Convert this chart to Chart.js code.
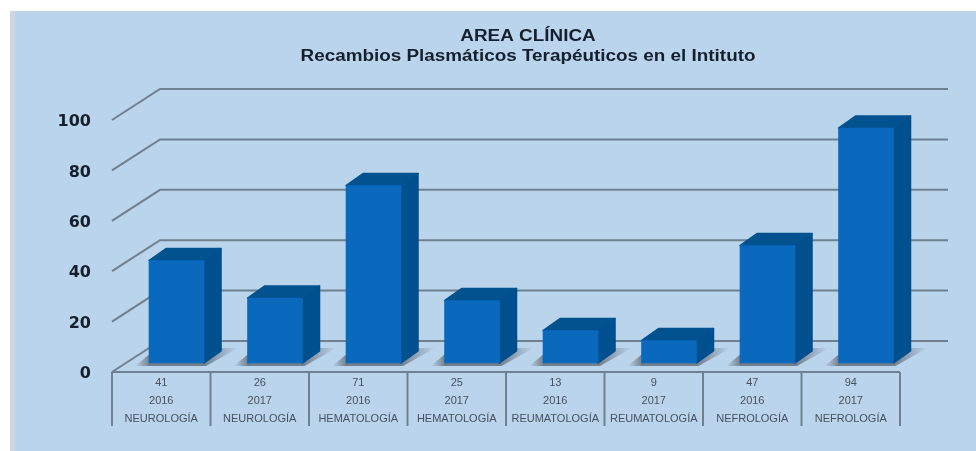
<!DOCTYPE html>
<html>
<head>
<meta charset="utf-8">
<title>Area clínica</title>
<script src="https://cdn.jsdelivr.net/npm/chart.js@4"></script>
<style>
  html, body { margin: 0; padding: 0; background: #fff; overflow: hidden; }
  canvas { display: block; }
</style>
</head>
<body>
<canvas id="recambiosChart" width="976" height="451"></canvas>
<script>
const areas = ['NEUROLOGÍA', 'NEUROLOGÍA', 'HEMATOLOGÍA', 'HEMATOLOGÍA', 'REUMATOLOGÍA', 'REUMATOLOGÍA', 'NEFROLOGÍA', 'NEFROLOGÍA'];
const years = ['2016', '2017', '2016', '2017', '2016', '2017', '2016', '2017'];
const values = [41, 26, 71, 25, 13, 9, 47, 94];
const titleLines = ['AREA CLÍNICA', 'Recambios Plasmáticos Terapéuticos en el Intituto'];

const lineColor = '#6f8090';
const wallDepth = { x: 48, y: -31 };   // front edge of the floor to the back wall
const barDepth = { x: 17, y: -12 };    // depth of each box
const tickDrop = 2;                    // value labels sit a bit below their wall line

// Background, walls, floor shadows and the side/top faces of the boxes
const boxes3d = {
  id: 'boxes3d',
  beforeDraw(chart) {
    const ctx = chart.ctx;
    ctx.save();
    ctx.fillStyle = '#bad4ec';
    ctx.fillRect(10, 11, 966, 440);
    ctx.fillStyle = '#cdd6dc';
    ctx.fillRect(10, 11, 5, 440);
    ctx.restore();
  },
  beforeDatasetsDraw(chart) {
    const ctx = chart.ctx;
    const area = chart.chartArea;
    const yTicks = chart.scales.y;
    const floorY = area.bottom - tickDrop;
    ctx.save();

    // back wall lines with their slanted ends
    ctx.strokeStyle = lineColor;
    ctx.lineWidth = 2;
    yTicks.ticks.forEach(t => {
      const py = yTicks.getPixelForValue(t.value) - tickDrop;
      ctx.beginPath();
      ctx.moveTo(area.left, py);
      ctx.lineTo(area.left + wallDepth.x, py + wallDepth.y);
      ctx.lineTo(948, py + wallDepth.y);
      ctx.stroke();
    });

    // table under the floor
    ctx.beginPath();
    ctx.moveTo(area.left, floorY);
    ctx.lineTo(area.right, floorY);
    const xLabels = chart.scales.x;
    for (let i = 0; i <= areas.length; i++) {
      const px = area.left + i * xLabels.width / areas.length;
      ctx.moveTo(px, floorY);
      ctx.lineTo(px, 426);
    }
    ctx.stroke();

    chart.getDatasetMeta(0).data.forEach(bar => {
      const { x, y, base, width } = bar.getProps(['x', 'y', 'base', 'width'], true);
      const left = x - width / 2;
      const right = x + width / 2;

      // floor shadow
      let g = ctx.createLinearGradient(left - 14, 0, left, 0);
      g.addColorStop(0, 'rgba(110,122,135,0)');
      g.addColorStop(1, 'rgba(110,122,135,0.9)');
      ctx.fillStyle = g;
      ctx.beginPath();
      ctx.moveTo(left - 14, base + 3);
      ctx.lineTo(left + 2, base + 3);
      ctx.lineTo(left + 2, base - 10);
      ctx.closePath();
      ctx.fill();

      g = ctx.createLinearGradient(right, 0, right + 34, 0);
      g.addColorStop(0, 'rgba(110,122,135,0.95)');
      g.addColorStop(1, 'rgba(110,122,135,0)');
      ctx.fillStyle = g;
      ctx.beginPath();
      ctx.moveTo(left, base);
      ctx.lineTo(left, base + 3);
      ctx.lineTo(right + 2, base + 3);
      ctx.lineTo(right + 34, base - 15);
      ctx.lineTo(right + 15, base - 15);
      ctx.closePath();
      ctx.fill();

      // side face
      ctx.lineJoin = 'round';
      ctx.lineWidth = 1.5;
      ctx.fillStyle = ctx.strokeStyle = '#004f8e';
      ctx.beginPath();
      ctx.moveTo(right, y);
      ctx.lineTo(right + barDepth.x, y + barDepth.y);
      ctx.lineTo(right + barDepth.x, base + barDepth.y);
      ctx.lineTo(right, base);
      ctx.closePath();
      ctx.fill();
      ctx.stroke();

      // top face
      ctx.fillStyle = ctx.strokeStyle = '#02528f';
      ctx.beginPath();
      ctx.moveTo(left, y);
      ctx.lineTo(left + barDepth.x, y + barDepth.y);
      ctx.lineTo(right + barDepth.x, y + barDepth.y);
      ctx.lineTo(right, y);
      ctx.closePath();
      ctx.fill();
      ctx.stroke();
    });
    ctx.restore();
  },
  afterDraw(chart) {
    // the heading is wider than the regular face, so it gets stretched sideways
    const ctx = chart.ctx;
    ctx.save();
    ctx.fillStyle = '#14202e';
    ctx.font = 'bold 16px "Liberation Sans"';
    ctx.textAlign = 'center';
    ctx.textBaseline = 'middle';
    ctx.translate(528, 0);
    ctx.scale(1.18, 1);
    ctx.fillText(titleLines[0], 0, 37);
    ctx.fillText(titleLines[1], 0, 57);
    ctx.restore();
  }
};

new Chart(document.getElementById('recambiosChart'), {
  type: 'bar',
  data: {
    labels: values.map((v, i) => [String(v), years[i], areas[i]]),
    datasets: [{
      label: 'Recambios',
      data: values.map((v, i) => ({ x: i, y: v })),
      xAxisID: 'xBars',
      yAxisID: 'yBars',
      backgroundColor: '#0a69bd',
      borderWidth: 0,
      barThickness: 55
    }]
  },
  plugins: [boxes3d],
  options: {
    responsive: false,
    animation: false,
    layout: { padding: { top: 88, right: 76, left: 0, bottom: 0 } },
    plugins: {
      legend: { display: false },
      tooltip: { enabled: false }
    },
    scales: {
      // labels of the table
      x: {
        type: 'category',
        position: 'bottom',
        grid: { display: false, drawTicks: false },
        border: { display: false },
        ticks: {
          autoSkip: false,
          maxRotation: 0,
          padding: 0,
          color: '#46525e',
          font: { family: '"Liberation Sans"', size: 11, lineHeight: '18px' }
        },
        afterFit(scale) { scale.height = 77; }
      },
      // value axis as seen on the front edge of the floor
      y: {
        type: 'linear',
        position: 'left',
        min: 0,
        max: 113.5,
        grid: { display: false, drawTicks: false },
        border: { display: false },
        ticks: {
          stepSize: 20,
          includeBounds: false,
          padding: 21,
          color: '#14202e',
          font: { family: '"DejaVu Sans"', size: 16, weight: 'bold' }
        },
        afterFit(scale) { scale.width = 112; }
      },
      // boxes stand a little behind the front edge
      xBars: { type: 'linear', axis: 'x', display: false, offset: false, min: -0.655, max: 7.345 },
      yBars: { type: 'linear', axis: 'y', display: false, min: -4.4, max: 110 }
    }
  }
});
</script>
</body>
</html>
